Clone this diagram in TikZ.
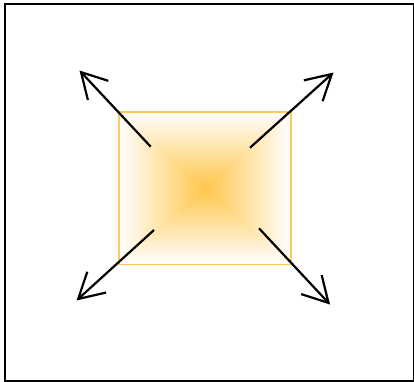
\documentclass[tikz,border=0pt]{standalone}
\usetikzlibrary{arrows.meta}
\definecolor{glow}{HTML}{FFC64A}
\definecolor{edgeor}{HTML}{FFCA60}
\tikzset{
  arr/.style={line width=2.2pt, -{Straight Barb[length=25pt,width=28pt,line width=2.2pt]}},
  frame/.style={draw=black, line width=1.6pt}
}
\begin{document}
\begin{tikzpicture}[x=1pt,y=-1pt]
\useasboundingbox (0,0) rectangle (414,381);
\node[frame, minimum width=409pt, minimum height=377pt, inner sep=0pt, anchor=north west] (frame) at (4,3) {};
% rectangular gradient made of four triangles
\coordinate (c) at (205,188);
\coordinate (nw) at (119,112);
\coordinate (ne) at (290.7,112);
\coordinate (se) at (290.7,264);
\coordinate (sw) at (119,264);
\shade[top color=white, middle color=glow!38!white, bottom color=glow] (nw) -- (ne) -- (c) -- cycle;
\shade[bottom color=white, middle color=glow!38!white, top color=glow] (sw) -- (se) -- (c) -- cycle;
\shade[left color=white, middle color=glow!38!white, right color=glow] (nw) -- (sw) -- (c) -- cycle;
\shade[right color=white, middle color=glow!38!white, left color=glow] (ne) -- (se) -- (c) -- cycle;
\node[minimum width=171.7pt, minimum height=152pt, inner sep=0pt, anchor=north west] (box) at (nw) {};
\draw[draw=edgeor, line width=1.5pt] (box.north west) rectangle (box.south east);
% arrows
\coordinate (a1s) at (150.7,146.7); \coordinate (a1e) at (79.5,70.5);
\coordinate (a2s) at (250,147.7);   \coordinate (a2e) at (333.5,72.5);
\coordinate (a3s) at (154,230);     \coordinate (a3e) at (76.5,300.5);
\coordinate (a4s) at (259,228.3);   \coordinate (a4e) at (330,304.5);
\draw[arr] (a1s) -- (a1e);
\draw[arr] (a2s) -- (a2e);
\draw[arr] (a3s) -- (a3e);
\draw[arr] (a4s) -- (a4e);
\end{tikzpicture}
\end{document}
